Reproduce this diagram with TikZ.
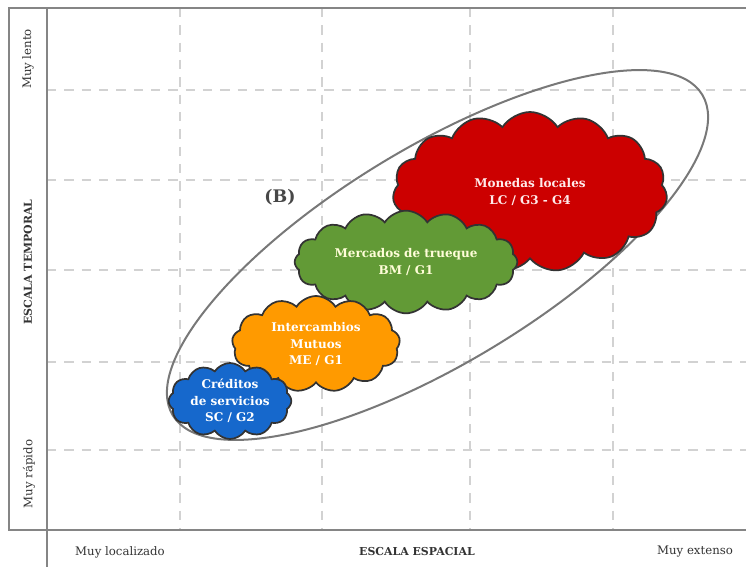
\documentclass[tikz,border=0pt]{standalone}
\usepackage{fontspec}
\setmainfont{DejaVu Serif}
\usetikzlibrary{shapes.symbols}
\definecolor{scaleFrame}{HTML}{858585}
\definecolor{scaleGrid}{HTML}{D2D2D2}
\definecolor{scaleInk}{HTML}{333333}
\definecolor{schemeSC}{HTML}{1668CC}
\definecolor{schemeME}{HTML}{FF9A00}
\definecolor{schemeBM}{HTML}{629A36}
\definecolor{schemeLC}{HTML}{CC0000}

\begin{document}
\begin{tikzpicture}[x=0.75pt, y=-0.75pt,
  axisframe/.style={draw=scaleFrame, line width=1.7pt},
  gridline/.style={draw=scaleGrid, line width=0.8pt, dash pattern=on 7pt off 6pt},
  axlbl/.style={font=\fontsize{8.8}{10}\selectfont, text=scaleInk, inner sep=0pt},
  axttl/.style={font=\fontsize{8.2}{10}\selectfont\bfseries, text=scaleInk, inner sep=0pt},
  scheme/.style={cloud, cloud puffs=15, cloud puff arc=115, cloud ignores aspect,
                 draw=scaleInk, line width=1.3pt, align=center, inner sep=0pt,
                 font=\fontsize{9}{12.5}\selectfont\bfseries},
]
\useasboundingbox (0,0) rectangle (746,567);

% --- grid ---
\draw[gridline] (47,90)  -- (746,90);
\draw[gridline] (47,180) -- (746,180);
\draw[gridline] (47,270) -- (746,270);
\draw[gridline] (47,362) -- (746,362);
\draw[gridline] (47,450) -- (746,450);
\draw[gridline] (180,8) -- (180,530);
\draw[gridline] (322,8) -- (322,530);
\draw[gridline] (470,8) -- (470,530);
\draw[gridline] (613,8) -- (613,530);

% --- frame ---
\draw[axisframe] (746,8) -- (9,8) -- (9,530) -- (746,530);
\draw[axisframe] (47,8) -- (47,567);

% --- axis labels ---
\node[axlbl, rotate=90] (slow)  at (28,59)  {Muy lento};
\node[axttl, rotate=90] (ttime) at (28,262) {ESCALA TEMPORAL};
\node[axlbl, rotate=90] (fast)  at (29,474) {Muy rápido};
\node[axlbl] (local)  at (120,552) {Muy localizado};
\node[axttl] (tspace) at (417,552) {ESCALA ESPACIAL};
\node[axlbl] (wide)   at (695,552) {Muy extenso};

% --- envelope (B) ---
\draw[draw=scaleFrame!90!black, line width=1.5pt, rotate around={31.2:(437.5,255)}]
  (437.5,255) ellipse [x radius=309.5, y radius=107.7];
\node[font=\fontsize{13}{15}\selectfont\bfseries, text=scaleInk!90] (tagB) at (280,197) {(B)};

% --- schemes, back to front ---
\node[scheme, fill=schemeLC, text=red!8, minimum width=206pt, minimum height=120pt]
  (lc) at (530,192) {Monedas locales\\LC / G3 - G4};
\node[scheme, cloud puffs=16, fill=schemeBM, text=yellow!15, minimum width=167pt, minimum height=77pt]
  (bm) at (406,262) {Mercados de trueque\\BM / G1};
\node[scheme, cloud puffs=13, fill=schemeME, text=white, minimum width=126pt, minimum height=72pt]
  (me) at (316,344) {Intercambios\\Mutuos\\ME / G1};
\node[scheme, cloud puffs=12, fill=schemeSC, text=white, minimum width=92pt, minimum height=50pt]
  (sc) at (230,401) {Créditos\\de servicios\\SC / G2};
\end{tikzpicture}
\end{document}
